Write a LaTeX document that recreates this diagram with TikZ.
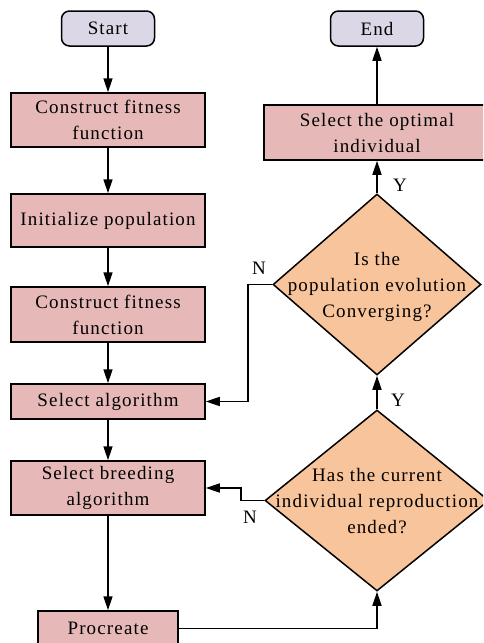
\documentclass[tikz,border=0pt]{standalone}
\usepackage{fontspec}
\setmainfont{Liberation Serif}[LetterSpace=6]
\usetikzlibrary{shapes.geometric,arrows.meta}
\definecolor{boxfill}{HTML}{E6B9B8}
\definecolor{termfill}{HTML}{DCD7E6}
\definecolor{decfill}{HTML}{F8C49B}
\begin{document}
\begin{tikzpicture}[x=1pt,y=-1pt,
  font=\fontsize{19}{26}\selectfont,
  every node/.style={inner sep=0pt},
  proc/.style={draw, line width=1.5pt, fill=boxfill, minimum width=194pt, align=center},
  term/.style={draw, line width=1.5pt, fill=termfill, rounded corners=8pt, minimum width=93pt, minimum height=35pt},
  dec/.style={draw, line width=1.5pt, fill=decfill, diamond, minimum width=#1, minimum height=181pt},
  dectext/.style={align=center},
  flow/.style={line width=1.6pt, -{Triangle[length=14pt,width=9pt]}}]
\useasboundingbox (0,0) rectangle (483,643);
\begin{scope}
\clip (0,0) rectangle (483,643);
% left column
\node[term] (start) at (108,28.5) {Start};
\node[proc, minimum height=54pt] (cf1) at (108,120) {Construct fitness\\function};
\node[proc, minimum height=53pt] (init) at (108,220.5) {Initialize population};
\node[proc, minimum height=55pt] (cf2) at (108,314.5) {Construct fitness\\function};
\node[proc, minimum height=35pt] (sel) at (108,401.5) {Select algorithm};
\node[proc, minimum height=54pt] (breed) at (108,488) {Select breeding\\algorithm};
\node[proc, minimum height=35pt, minimum width=140pt] (procr) at (108,628.5) {Procreate};
% right column
\node[term] (end) at (377,28.5) {End};
\node[proc, minimum height=55pt, minimum width=226pt] (opt) at (377,132.5) {Select the optimal\\individual};
\node[dec=208pt] (d1) at (377,284.5) {};
\node[dectext] (d1t) at (377,286.5) {Is the\\population evolution\\Converging?};
\node[dec=224pt] (d2) at (377,500.5) {};
\node[dectext] (d2t) at (377,501) {Has the current\\individual reproduction\\ended?};
% connectors
\draw[flow] (start) -- (cf1);
\draw[flow] (cf1) -- (init);
\draw[flow] (init) -- (cf2);
\draw[flow] (cf2) -- (sel);
\draw[flow] (sel) -- (breed);
\draw[flow] (breed) -- (procr);
\draw[flow] (procr.east) -| (d2.south);
\draw[flow] (d2.north) -- (d1.south);
\draw[flow] (d1.north) -- (opt.south);
\draw[flow] (opt.north) -- (end.south);
\draw[flow] (d1.west) -- ++(-24,0) |- (sel.east);
\draw[flow] (d2.west) -- ++(-23,0) |- (breed.east);
% branch labels
\node (y1) at (400,185) {Y};
\node (y2) at (398,400) {Y};
\node (n1) at (259,268) {N};
\node (n2) at (250,517) {N};
\end{scope}
\end{tikzpicture}
\end{document}
